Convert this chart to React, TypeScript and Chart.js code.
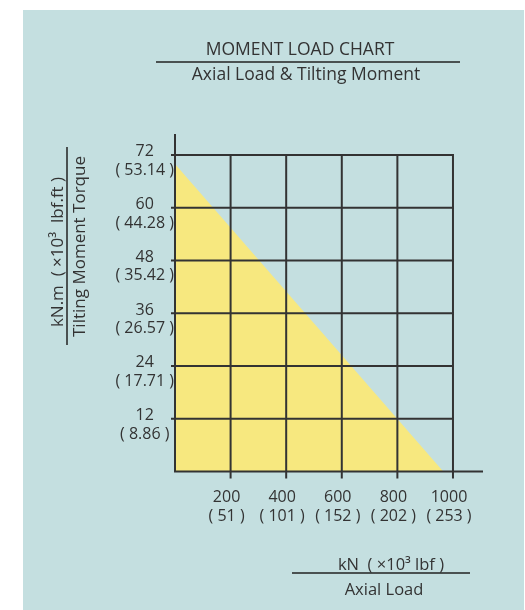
import React, { useEffect, useRef } from 'react';
import { Chart, registerables } from 'chart.js';

Chart.register(...registerables);

// ---- data ----
const X_KN = [200, 400, 600, 800, 1000];
const X_LBF = ['51', '101', '152', '202', '253'];
const Y_KNM = [12, 24, 36, 48, 60, 72];
const Y_LBFFT = ['8.86', '17.71', '26.57', '35.42', '44.28', '53.14'];
const LIMIT_LOAD = [0, 965];
const LIMIT_MOMENT = [70, 0];
const X_AXIS_MAX = 1108;
const Y_AXIS_MAX = 76.8;

const TITLE = 'MOMENT LOAD CHART';
const SUBTITLE = 'Axial Load & Tilting Moment';
const X_UNIT = 'kN  ( ×10³ lbf )';
const X_NAME = 'Axial Load';
const Y_UNIT = 'kN.m  ( ×10³  lbf.ft )';
const Y_NAME = 'Tilting Moment Torque';

const FONT = "'Open Sans', sans-serif";
const INK = '#333333';
const PANEL = '#c4dfe0';
const FILL = '#f7e87f';

const gridPlugin = {
  id: 'momentGrid',
  afterDatasetsDraw(chart: any) {
    const { ctx, chartArea, scales } = chart;
    const xs = scales.x;
    const ys = scales.y;
    const x0 = xs.getPixelForValue(0);
    const y0 = ys.getPixelForValue(0);
    const xEnd = xs.getPixelForValue(X_KN[X_KN.length - 1]);
    const yEnd = ys.getPixelForValue(Y_KNM[Y_KNM.length - 1]);
    ctx.save();
    ctx.strokeStyle = INK;
    ctx.lineWidth = 2;
    ctx.beginPath();
    Y_KNM.forEach((v) => {
      const y = ys.getPixelForValue(v);
      ctx.moveTo(x0 - 4, y);
      ctx.lineTo(xEnd + 1, y);
    });
    X_KN.forEach((v) => {
      const x = xs.getPixelForValue(v);
      ctx.moveTo(x, y0 + 7);
      ctx.lineTo(x, yEnd - 1);
    });
    ctx.moveTo(x0, y0 + 1);
    ctx.lineTo(x0, chartArea.top);
    ctx.moveTo(x0 - 1, y0);
    ctx.lineTo(chartArea.right, y0);
    ctx.stroke();
    ctx.restore();
  },
  afterDraw(chart: any) {
    const { ctx } = chart;
    ctx.save();
    ctx.fillStyle = INK;
    ctx.strokeStyle = '#222222';
    ctx.lineWidth = 1.5;
    ctx.textBaseline = 'alphabetic';
    ctx.textAlign = 'center';

    // title block
    ctx.font = `17.5px ${FONT}`;
    ctx.fillText(TITLE, 277, 45);
    ctx.fillText(SUBTITLE, 283, 70);
    ctx.beginPath();
    ctx.moveTo(133, 52);
    ctx.lineTo(437, 52);
    ctx.stroke();

    // x axis title
    ctx.font = `16.5px ${FONT}`;
    ctx.fillText(X_UNIT, 368, 560);
    ctx.fillText(X_NAME, 361, 585);
    ctx.beginPath();
    ctx.moveTo(269, 563);
    ctx.lineTo(447, 563);
    ctx.stroke();

    // y axis title
    ctx.font = `17px ${FONT}`;
    ctx.save();
    ctx.translate(40, 242);
    ctx.rotate(-Math.PI / 2);
    ctx.fillText(Y_UNIT, 0, 0);
    ctx.restore();
    ctx.save();
    ctx.translate(62, 236.5);
    ctx.rotate(-Math.PI / 2);
    ctx.fillText(Y_NAME, 0, 0);
    ctx.restore();
    ctx.beginPath();
    ctx.moveTo(44, 137);
    ctx.lineTo(44, 335);
    ctx.stroke();
    ctx.restore();
  },
};

export default function App() {
  const ref = useRef<HTMLCanvasElement | null>(null);

  useEffect(() => {
    if (!ref.current) return;
    const chart = new Chart(ref.current, {
      type: 'line',
      data: {
        datasets: [
          {
            data: LIMIT_LOAD.map((x, i) => ({ x, y: LIMIT_MOMENT[i] })),
            fill: 'origin',
            backgroundColor: FILL,
            borderWidth: 0,
            borderColor: 'rgba(0,0,0,0)',
            pointRadius: 0,
            tension: 0,
          },
        ],
      },
      options: {
        animation: false,
        responsive: false,
        devicePixelRatio: 1,
        layout: { padding: { left: 0, top: 124, right: 41, bottom: 0 } },
        plugins: {
          legend: { display: false },
          tooltip: { enabled: false },
          title: { display: false },
        },
        scales: {
          x: {
            type: 'linear',
            min: 0,
            max: X_AXIS_MAX,
            afterBuildTicks: (s: any) => {
              s.ticks = X_KN.map((v) => ({ value: v }));
            },
            afterFit: (s: any) => {
              s.height = 138.5;
            },
            grid: { display: false },
            border: { display: false },
            ticks: {
              autoSkip: false,
              maxRotation: 0,
              minRotation: 0,
              padding: 8,
              labelOffset: -4,
              color: INK,
              font: { family: FONT, size: 16, lineHeight: 1.2 },
              callback: (v: any) => {
                const i = X_KN.indexOf(Number(v));
                return i < 0 ? '' : [String(X_KN[i]), `( ${X_LBF[i]} )`];
              },
            },
          },
          y: {
            type: 'linear',
            min: 0,
            max: Y_AXIS_MAX,
            afterBuildTicks: (s: any) => {
              s.ticks = Y_KNM.map((v) => ({ value: v }));
            },
            afterFit: (s: any) => {
              s.width = 152;
            },
            grid: { display: false },
            border: { display: false },
            ticks: {
              autoSkip: false,
              crossAlign: 'center',
              padding: -7,
              labelOffset: 6,
              color: INK,
              font: { family: FONT, size: 16, lineHeight: 1.15 },
              callback: (v: any) => {
                const i = Y_KNM.indexOf(Number(v));
                return i < 0 ? '' : [String(Y_KNM[i]), `( ${Y_LBFFT[i]} )`];
              },
            },
          },
        },
      },
      plugins: [gridPlugin],
    } as any);
    return () => chart.destroy();
  }, []);

  return (
    <div
      style={{
        position: 'absolute',
        left: 23,
        top: 10,
        width: 501,
        height: 600,
        background: PANEL,
      }}
    >
      <canvas ref={ref} width={501} height={600} style={{ display: 'block' }} />
    </div>
  );
}
